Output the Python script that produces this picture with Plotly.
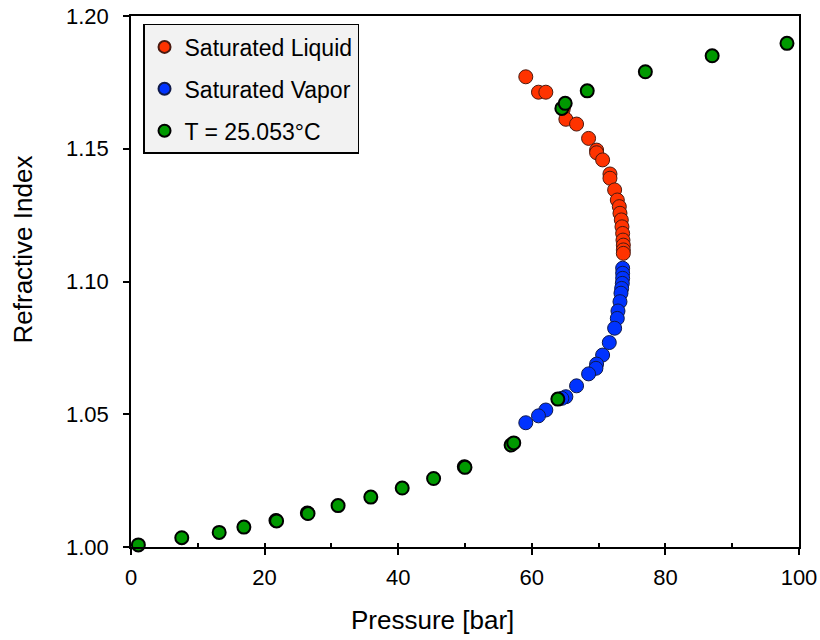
import plotly.graph_objects as go

# Saturated liquid (pressure bar, refractive index)
liq_p = [59.1, 61.0, 62.1, 64.7, 65.1, 66.7, 68.5, 69.7, 69.7, 70.6, 71.7, 71.7, 72.4, 72.8,
         73.1, 73.2, 73.4, 73.5, 73.6, 73.65, 73.7, 73.7, 73.7]
liq_n = [1.1771, 1.1713, 1.1713, 1.1649, 1.1611, 1.1593, 1.1539, 1.1495, 1.1485, 1.1458, 1.1405,
         1.1389, 1.1345, 1.1307, 1.1282, 1.1257, 1.1232, 1.1206, 1.1181, 1.1156, 1.1137, 1.1119, 1.1106]

# Saturated vapor
vap_p = [73.6, 73.6, 73.6, 73.55, 73.45, 73.35, 73.2, 72.9, 72.8, 72.4, 71.6, 70.6, 69.7, 69.6,
         68.5, 66.7, 65.1, 64.5, 62.1, 61.0, 59.1]
vap_n = [1.1050, 1.1031, 1.1012, 1.0993, 1.0974, 1.0956, 1.0924, 1.0889, 1.0861, 1.0824, 1.0770,
         1.0723, 1.0689, 1.0673, 1.0652, 1.0607, 1.0566, 1.0560, 1.0516, 1.0494, 1.0468]

# Isotherm T = 25.053 °C
iso_p = [1.1, 7.6, 13.2, 16.9, 21.7, 21.8, 26.4, 26.5, 31.0, 35.9, 40.6, 45.3, 49.9, 50.0,
         56.9, 57.3, 63.9, 64.5, 65.0, 68.3, 77.0, 87.0, 98.2]
iso_n = [1.0008, 1.0035, 1.0055, 1.0075, 1.0100, 1.0098, 1.0128, 1.0126, 1.0156, 1.0188, 1.0222,
         1.0258, 1.0302, 1.0300, 1.0384, 1.0392, 1.0557, 1.1652, 1.1671, 1.1718, 1.1790, 1.1850, 1.1897]

x_title = "Pressure [bar]"
y_title = "Refractive Index"

FONT = "Liberation Sans, Arial, Helvetica, sans-serif"

fig = go.Figure()
fig.add_trace(go.Scatter(
    x=liq_p, y=liq_n, mode="markers", name="Saturated Liquid", legendgroup="a",
    cliponaxis=False,
    marker=dict(size=14, color="#ff3300", line=dict(color="#4a1a10", width=1))))
fig.add_trace(go.Scatter(
    x=vap_p, y=vap_n, mode="markers", name="Saturated Vapor", legendgroup="b",
    cliponaxis=False,
    marker=dict(size=14, color="#0033ff", line=dict(color="#101a4a", width=1))))
fig.add_trace(go.Scatter(
    x=iso_p, y=iso_n, mode="markers", name="T = 25.053°C", legendgroup="c",
    cliponaxis=False,
    marker=dict(size=13, color="#009900", line=dict(color="#000000", width=2))))
# empty helper trace so the inner-tick overlay axis is drawn
fig.add_trace(go.Scatter(x=[], y=[], xaxis="x2", showlegend=False, hoverinfo="skip"))

fig.update_layout(
    width=820, height=640,
    margin=dict(l=131, r=21, t=16, b=93, autoexpand=False),
    paper_bgcolor="white", plot_bgcolor="white",
    font=dict(family=FONT, size=22, color="black"),
    showlegend=True,
    legend=dict(
        x=0.018, y=0.985, xanchor="left", yanchor="top",
        bgcolor="#f2f2f2", bordercolor="black", borderwidth=1.5,
        font=dict(family=FONT, size=23, color="black"),
        traceorder="grouped", tracegroupgap=9,
        itemsizing="constant", entrywidth=185, entrywidthmode="pixels",
    ),
    xaxis=dict(
        range=[0, 100], dtick=20, tick0=0, automargin=False,
        showgrid=False, zeroline=False,
        showline=True, linecolor="black", linewidth=1.5, mirror=True,
        ticks="outside", ticklen=6, tickcolor="black", tickwidth=1.5,
        tickfont=dict(size=22), ticklabelstandoff=4,
    ),
    xaxis2=dict(
        range=[0, 100], dtick=10, tick0=0, overlaying="x", side="bottom",
        anchor="y", automargin=False,
        showgrid=False, zeroline=False, showline=False, showticklabels=False,
        ticks="inside", ticklen=4, tickcolor="black", tickwidth=1.5,
    ),
    yaxis=dict(
        range=[1.0, 1.2], dtick=0.05, tick0=1.0, tickformat=".2f", automargin=False,
        showgrid=False, zeroline=False,
        showline=True, linecolor="black", linewidth=1.5, mirror=True,
        ticks="outside", ticklen=6, tickcolor="black", tickwidth=1.5,
        tickfont=dict(size=22), ticklabelstandoff=10,
    ),
    annotations=[
        dict(text=x_title, xref="paper", yref="paper", x=0.4506, y=-0.1375,
             xanchor="center", yanchor="middle", showarrow=False,
             font=dict(family=FONT, size=26, color="black")),
        dict(text=y_title, xref="paper", yref="paper", x=-0.1617, y=0.5603,
             xanchor="center", yanchor="middle", showarrow=False, textangle=-90,
             font=dict(family=FONT, size=26, color="black")),
    ],
)

fig.write_html("out.html")
